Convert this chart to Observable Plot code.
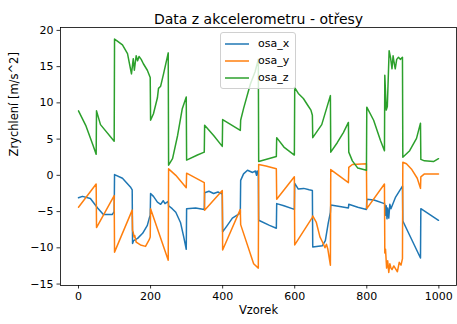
<!DOCTYPE html>
<html>
<head>
<meta charset="utf-8">
<script src="https://cdn.jsdelivr.net/npm/d3@7"></script>
<script src="https://cdn.jsdelivr.net/npm/@observablehq/plot@0.6"></script>
<style>
  html, body { margin: 0; padding: 0; background: white; }
  #wrap { position: relative; width: 457px; height: 324px; font-family: "DejaVu Sans", sans-serif; }
  #legend { position: absolute; left: 220px; top: 32px; width: 76px; height: 57px; box-sizing: border-box;
    border: 1px solid #d0d0d0; border-radius: 3px; background: rgba(255,255,255,0.8); }
  .row { position: absolute; left: 0; height: 17px; font-size: 11px; color: #000; }
  .row svg { position: absolute; left: 3px; top: 0; }
  .row span { position: absolute; left: 37px; top: 1px; white-space: nowrap; }
</style>
</head>
<body>
<div id="wrap"></div>
<script>
const title = "Data z akcelerometru - otřesy";
const xLabel = "Vzorek";
const yLabel = "Zrychlení [m/s^2]";
const seriesNames = ["osa_x", "osa_y", "osa_z"];
const seriesColors = ["#1f77b4", "#ff7f0e", "#2ca02c"];
const xTicks = [0, 200, 400, 600, 800, 1000];
const yTicks = [-15, -10, -5, 0, 5, 10, 15, 20];

const osaX_s = [0,11,33,53,69,94,99, 100,122,144,149, 150,153,164,178,191,197,199, 200,208,219,228,235,240,249,
  250,260,270,283,292,299, 300,325,349, 350,362,375,387,399, 400,413,427,449,
  450,458,469,483,491,494,496,499, 500,530,549, 550,570,599, 600,610,625,640,649,
  650,677,685,693,699, 700,725,749, 750,775,799, 800,820,849,
  850,852,854,856,858,861,864,867,880,899, 900,949, 950,999];
const osaX_v = [-3.1,-2.9,-3.2,-4.5,-5.4,-5.4,-5.0, 0.1,-0.4,-1.6,-2.0, -9.4,-9.0,-8.7,-8.0,-6.9,-5.8,-5.5,
  -2.5,-2.9,-3.7,-4.0,-3.5,-3.9,-3.6, -4.2,-4.6,-5.1,-6.5,-8.5,-10.2, -4.6,-4.5,-4.7,
  -2.4,-2.2,-2.5,-2.3,-2.6, -7.8,-6.9,-5.9,-5.2, -0.7,0.2,0.7,0.4,0.6,0.0,0.6,0.1,
  -6.2,-6.9,-7.3, -3.9,-4.2,-4.7, -1.1,-1.9,-1.8,-2.0,-2.1, -9.9,-9.7,-9.0,-6.6,-5.1,
  -4.1,-4.3,-4.5, -4.0,-4.4,-4.7, -3.3,-3.4,-3.9,
  -4.0,-5.5,-4.2,-6.0,-4.5,-5.9,-4.0,-4.6,-3.0,-1.5, -6.3,-11.4, -4.6,-6.2];

const osaY_s = [0,49, 50,99, 100,149, 150,152,154,156,160,172,186,197,199, 200,249, 250,270,299, 300,349,
  350,399, 400,449, 450,486,499, 500,520,549, 550,599, 600,649,
  650,660,670,677,684,688,692,699, 700,749, 750,760,799, 800,849,
  850,852,855,858,861,864,867,870,875,880,885,890,895,899,
  900,910,925,940,949, 950,960,999];
const osaY_v = [-4.4,-1.2, -7.2,-2.8, -10.6,-4.8, -7.6,-7.9,-8.5,-8.3,-9.2,-9.6,-9.8,-8.8,-8.5, -4.6,-11.7,
  0.9,0.0,-1.7, 0.3,-1.0, -4.8,-2.1, -10.3,-4.7, -6.8,-12.2,-12.8, 1.5,1.3,0.9, -3.3,-0.2, -9.6,-5.8,
  -5.6,-6.5,-8.5,-9.2,-10.0,-9.5,-10.2,-12.4, 0.8,-1.0, 1.1,1.5,1.6, -4.6,-1.2,
  -10.7,-10.2,-12.8,-11.8,-13.4,-12.2,-12.8,-13.0,-12.5,-12.9,-13.3,-12.0,-12.4,-11.5,
  1.8,1.6,0.8,-0.4,-1.8, -0.2,0.2,0.2];

const osaZ_s = [0,20,40,49, 50,61,99, 100,106,122,136,147,152,155,160,164,168,174,180,191,199,
  200,208,219,222,228,236,249, 250,261,275,288,299, 300,330,349, 350,375,399, 400,449,
  450,458,477,490,499, 500,549, 550,570,599, 600,610,624,637,645,649, 650,675,699,
  700,718,735,749, 750,760,775,799, 800,819,838,849,
  850,854,857,862,866,870,873,876,879,883,888,893,899, 900,919,938,949, 950,960,985,999];
const osaZ_v = [8.9,6.9,4.2,2.9, 8.9,7.0,4.7, 18.8,18.6,18.0,16.8,14.0,16.1,14.5,16.5,15.8,16.4,16.0,15.4,14.5,13.5,
  7.6,8.5,10.7,12.0,12.3,14.0,16.9, 1.4,2.3,5.5,9.2,10.8, 2.1,2.8,3.2, 6.9,5.5,4.0, 7.7,6.2,
  7.6,9.2,12.6,14.3,16.0, 1.9,2.6, 5.2,3.9,2.8, 12.1,11.3,10.6,9.6,9.0,8.3, 5.2,7.0,11.0,
  3.2,4.5,5.9,7.3, 3.2,2.0,1.0,0.7, 9.4,7.6,4.8,3.4,
  13.8,9.0,9.5,17.2,16.2,14.7,16.5,15.5,14.7,16.0,16.3,16.0,16.3, 2.5,3.4,5.1,7.2, 2.2,2.0,1.9,2.3];

const rows = [];
[[osaX_s, osaX_v], [osaY_s, osaY_v], [osaZ_s, osaZ_v]].forEach(([s, v], i) => {
  s.forEach((si, j) => rows.push({series: seriesNames[i], s: si, v: v[j]}));
});

const fmt = d => d < 0 ? "\u2212" + (-d) : String(d);

const chart = Plot.plot({
  width: 457, height: 324,
  marginLeft: 60, marginRight: 1, marginTop: 27, marginBottom: 39,
  style: {fontFamily: "DejaVu Sans", fontSize: "11px", color: "black", background: "white"},
  x: {domain: [-49.95, 1048.95]},
  y: {domain: [-15.2, 20.4]},
  color: {domain: seriesNames, range: seriesColors},
  marks: [
    Plot.line(rows, {x: "s", y: "v", stroke: "series", z: "series", strokeWidth: 1.5}),
    Plot.frame({stroke: "black", strokeWidth: 0.8}),
    Plot.axisX({ticks: xTicks, tickSize: 3.5, tickPadding: 3.5, strokeWidth: 0.8, tickFormat: fmt, label: null}),
    Plot.axisY({ticks: yTicks, tickSize: 3.5, tickPadding: 3.5, strokeWidth: 0.8, tickFormat: fmt, label: null}),
    Plot.text([xLabel], {frameAnchor: "bottom", dy: 28, fontSize: 11.5, text: d => d}),
    Plot.text([yLabel], {frameAnchor: "left", dx: -46, rotate: -90, fontSize: 11.5, text: d => d}),
    Plot.text([title], {frameAnchor: "top", dy: -13, fontSize: 14, text: d => d})
  ]
});

const wrap = document.getElementById("wrap");
wrap.appendChild(chart);

const legend = document.createElement("div");
legend.id = "legend";
seriesNames.forEach((name, i) => {
  const row = document.createElement("div");
  row.className = "row";
  row.style.top = (3 + i * 17) + "px";
  row.innerHTML = `<svg width="26" height="17"><line x1="1" x2="25" y1="8" y2="8" stroke="${seriesColors[i]}" stroke-width="1.5"/></svg><span>${name}</span>`;
  legend.appendChild(row);
});
wrap.appendChild(legend);
</script>
</body>
</html>
